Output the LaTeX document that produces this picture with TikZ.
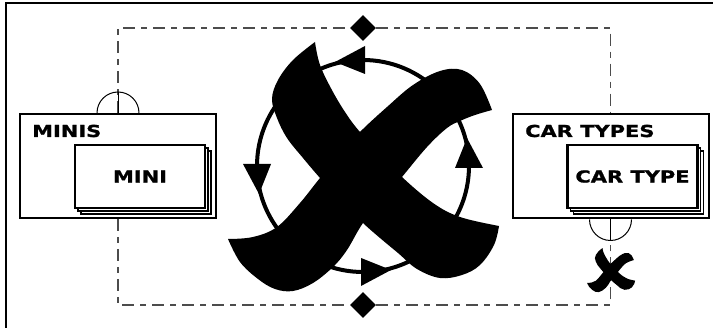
\documentclass[tikz,border=0pt]{standalone}
\usepackage{fontspec}
\newfontfamily\labelfont{DejaVu Sans}[FakeStretch=1.27, FakeBold=1.2]
\usetikzlibrary{shapes.geometric, arrows.meta, positioning, calc, shadows}

% brush cross, drawn around the origin
\newcommand{\crossshape}{%
  \fill plot[smooth, tension=0.6] coordinates {(-48,-124) (-43,-101) (-30,-74) (-16,-51) (-3,-34) (19,-11) (39,11) (70,37) (97,51) (136,60)}
    -- plot[smooth, tension=0.6] coordinates {(136,60) (131,79) (117,99) (99,109) (77,112) (54,103) (35,87) (17,72) (0,57) (-23,34) (-43,12) (-60,-8) (-76,-28) (-86,-48) (-91,-67) (-85,-86) (-70,-106) (-48,-124)} -- cycle;
  \fill plot[smooth, tension=0.6] coordinates {(-135,73) (-110,71) (-86,61) (-63,37) (-43,12) (-23,-11) (-3,-34) (24,-59) (50,-81) (77,-95) (99,-96) (117,-82) (129,-56)}
    -- plot[smooth, tension=0.6] coordinates {(129,-56) (112,-51) (97,-45) (84,-38) (64,-19) (39,11) (20,34) (0,57) (-16,84) (-30,101) (-50,117) (-70,125) (-88,123) (-105,113) (-123,96) (-135,73)} -- cycle;
}

\begin{document}
\begin{tikzpicture}[x=1pt, y=-1pt,
    frame/.style={line width=1.5pt},
    setbox/.style={rectangle, draw, line width=2pt, fill=white, inner sep=0pt, minimum width=196pt, minimum height=104pt},
    itembox/.style={rectangle, draw, line width=2.4pt, fill=white, inner sep=0pt, minimum width=130pt, minimum height=63pt, font=\labelfont\bfseries\fontsize{16.5}{18}\selectfont,
        copy shadow={shadow xshift=6pt, shadow yshift=-6pt, line width=1.4pt},
        copy shadow={shadow xshift=3pt, shadow yshift=-3pt, line width=1.4pt}},
    title/.style={anchor=base west, inner sep=0pt, font=\labelfont\bfseries\fontsize{16.5}{18}\selectfont},
    joint/.style={diamond, fill, inner sep=0pt, minimum size=26pt},
    relline/.style={draw=black!70, line width=1.3pt, dash pattern=on 12pt off 6pt on 6pt off 6pt},
    halfring/.style={line width=1pt}
]
    \useasboundingbox (0,0) rectangle (713,328);

    % outer frame (only top and left edge are inside the picture)
    \draw[frame] (6,328) -- (6,3) -- (713,3);

    % the two sets
    \node[setbox] (minis) at (118,166) {};
    \node[title] (ministitle) at (32,137) {MINIS};
    \node[itembox] (mini) at (140,176.5) {MINI};

    \node[setbox] (cartypes) at (610.5,166.5) {};
    \node[title] (cartypestitle) at (525,137) {CAR TYPES};
    \node[itembox] (cartype) at (632.5,176.5) {CAR TYPE};

    % relationship lines
    \node[joint] (topjoint) at (363,28) {};
    \node[joint] (botjoint) at (363,305) {};
    \draw[relline] (minis.north) |- (topjoint.west);
    \draw[relline] (topjoint.east) -| (cartypes.north);
    \draw[relline] (minis.south) |- (botjoint.west);
    \draw[relline] (botjoint.east) -| (cartypes.south);

    % half rings on the set boxes
    \draw[halfring] ([xshift=-21pt]minis.north) arc[start angle=180, end angle=0, radius=21pt];
    \draw[halfring] (minis.north) -- ++(0,-21);
    \draw[halfring] ([xshift=-21pt]cartypes.south) arc[start angle=180, end angle=360, radius=21pt];
    \draw[halfring] (cartypes.south) -- ++(0,21);

    % cycle
    \coordinate (hub) at (363,166);
    \draw[line width=4pt] (hub) circle[radius=106pt];
    \fill (365,46) -- (365,74) -- (335,62) -- cycle;
    \fill (243,164) -- (271,164) -- (259,194) -- cycle;
    \fill (361,286) -- (361,258) -- (391,270) -- cycle;
    \fill (483,168) -- (455,168) -- (467,138) -- cycle;

    % crosses
    \begin{scope}[shift={(hub)}]
        \crossshape
    \end{scope}
    \begin{scope}[shift={(611,270)}, scale=0.177]
        \crossshape
    \end{scope}
\end{tikzpicture}
\end{document}
